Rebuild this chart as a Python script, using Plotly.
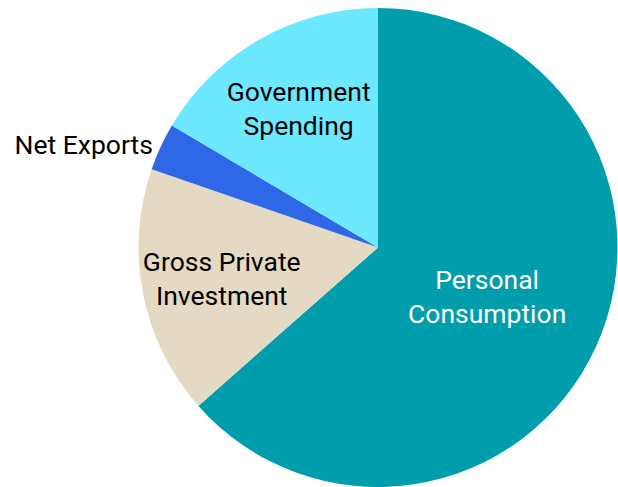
import plotly.graph_objects as go

# GDP components, share of total (%)
labels = ["Personal<br>Consumption", "Gross Private<br>Investment", "Net Exports", "Government<br>Spending"]
values = [63.5, 16.8, 3.2, 16.5]
colors = ["#009DAD", "#E4D9C3", "#2F68E6", "#6CE9FE"]
text_colors = ["white", "black", "black", "black"]
text_positions = ["inside", "inside", "outside", "inside"]

W, H = 618, 487
fig = go.Figure(
    go.Pie(
        labels=labels,
        values=values,
        sort=False,
        direction="clockwise",
        rotation=0,
        marker=dict(colors=colors, line=dict(width=0)),
        textinfo="label",
        textposition=text_positions,
        insidetextorientation="horizontal",
        insidetextfont=dict(color=text_colors, family="Roboto", size=26.5),
        outsidetextfont=dict(color="black", family="Roboto", size=26.5),
        automargin=False,
        showlegend=False,
        hoverinfo="label+percent",
        domain=dict(x=[138 / W, 1], y=[0, 1]),
    )
)

fig.update_layout(
    width=W,
    height=H,
    margin=dict(l=0, r=0, t=8, b=0, autoexpand=False),
    paper_bgcolor="white",
    font=dict(family="Roboto", size=26.5),
    uniformtext=dict(minsize=26.5, mode="show"),
)

fig.write_html("out.html")
